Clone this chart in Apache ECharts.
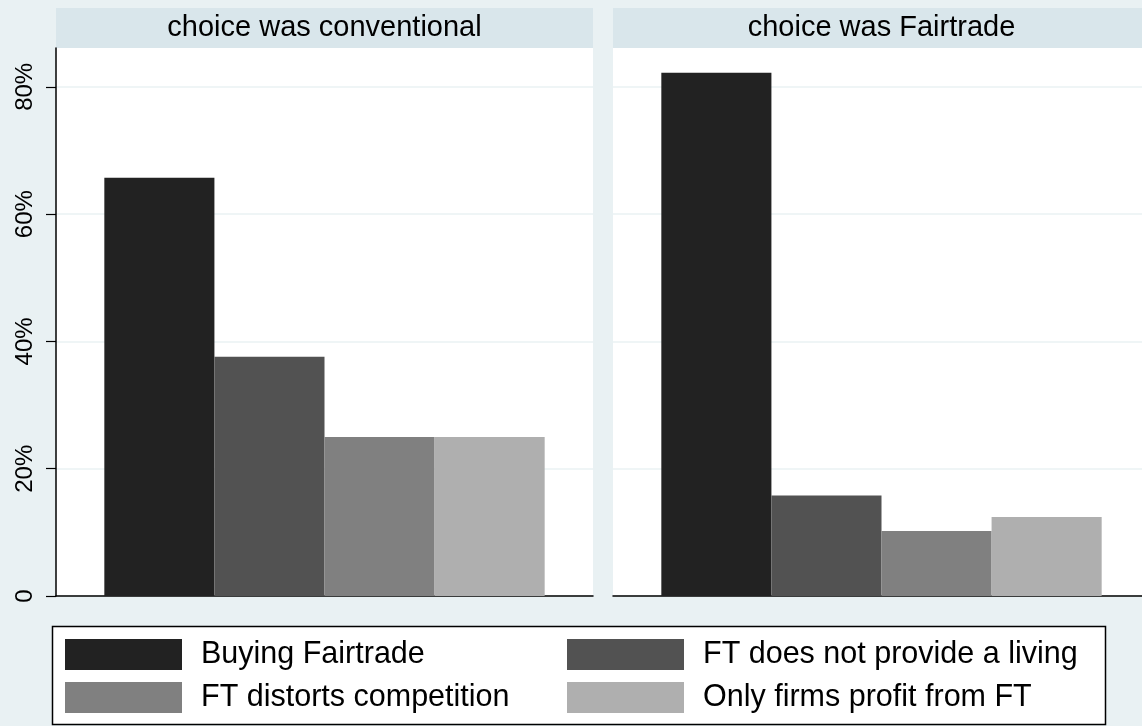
<!DOCTYPE html>
<html>
<head>
<meta charset="utf-8">
<script src="https://cdn.jsdelivr.net/npm/echarts@6/dist/echarts.min.js"></script>
<style>html,body{margin:0;padding:0;background:#e9f1f3}#c{width:1142px;height:726px}</style>
</head>
<body>
<div id="c"></div>
<script>
const panels = ['choice was conventional', 'choice was Fairtrade'];
const seriesNames = ['Buying Fairtrade', 'FT does not provide a living', 'FT distorts competition', 'Only firms profit from FT'];
const buyingFairtrade = [65.7, 82.2];
const notProvideLiving = [37.6, 15.8];
const distortsCompetition = [25.0, 10.2];
const onlyFirmsProfit = [25.0, 12.4];
const yTicks = [0, 20, 40, 60, 80];
const yMax = 86.1;

const values = [buyingFairtrade, notProvideLiving, distortsCompetition, onlyFirmsProfit];
const colors = ['#222222', '#525252', '#808080', '#afafaf'];
const FONT = 'Liberation Sans';

const chart = echarts.init(document.getElementById('c'));
const grids = [
  {left: 56, top: 48, width: 537, height: 548, outerBoundsMode: 'none'},
  {left: 613, top: 48, width: 537, height: 548, outerBoundsMode: 'none'}
];
const xAxes = panels.map((p, i) => ({
  type: 'category', gridIndex: i, data: [p],
  axisLine: {show: true, lineStyle: {color: '#000', width: 1.5}},
  axisTick: {show: false}, axisLabel: {show: false}, splitLine: {show: false}
}));
const yAxes = panels.map((p, i) => ({
  type: 'value', gridIndex: i, min: 0, max: yMax, interval: 20,
  axisLine: {show: i === 0, lineStyle: {color: '#000', width: 1.5}},
  axisTick: {show: i === 0, length: 10, lineStyle: {color: '#000', width: 1.2}, customValues: yTicks},
  axisLabel: {show: i === 0, rotate: 90, margin: 19, fontSize: 24, color: '#000', fontFamily: FONT,
    customValues: yTicks,
    formatter: v => v === 0 ? '0' : v + '%'},
  splitLine: {show: true, lineStyle: {color: '#eaf2f3', width: 1.5}}
}));
const series = [];
panels.forEach((p, i) => {
  seriesNames.forEach((n, k) => {
    series.push({
      type: 'bar', name: n, xAxisIndex: i, yAxisIndex: i,
      data: [values[k][i]], barWidth: '20.5%', barGap: '0%',
      itemStyle: {color: colors[k]}
    });
  });
});
const legendCommon = {
  orient: 'vertical', itemWidth: 117, itemHeight: 31, itemGap: 12, top: 639, padding: 0,
  icon: 'rect', selectedMode: false,
  textStyle: {fontSize: 30.5, color: '#000', fontFamily: FONT, padding: [0, 0, 0, 14]}
};
chart.setOption({
  backgroundColor: '#e9f1f3',
  animation: false,
  grid: grids,
  xAxis: xAxes,
  yAxis: yAxes,
  series: series,
  legend: [
    Object.assign({}, legendCommon, {left: 65, data: [seriesNames[0], seriesNames[2]]}),
    Object.assign({}, legendCommon, {left: 567, data: [seriesNames[1], seriesNames[3]]})
  ],
  graphic: [
    {type: 'rect', z: -1, shape: {x: 56, y: 8, width: 537, height: 40}, style: {fill: '#d9e6eb'}},
    {type: 'rect', z: -1, shape: {x: 613, y: 8, width: 537, height: 40}, style: {fill: '#d9e6eb'}},
    {type: 'rect', z: -1, shape: {x: 56, y: 48, width: 537, height: 548}, style: {fill: '#fff'}},
    {type: 'rect', z: -1, shape: {x: 613, y: 48, width: 537, height: 548}, style: {fill: '#fff'}},
    {type: 'text', x: 324.5, y: 28, style: {text: panels[0], font: '29px "Liberation Sans"', fill: '#000', align: 'center', verticalAlign: 'middle'}},
    {type: 'text', x: 881.5, y: 28, style: {text: panels[1], font: '29px "Liberation Sans"', fill: '#000', align: 'center', verticalAlign: 'middle'}},
    {type: 'rect', z: -1, shape: {x: 52.5, y: 626.5, width: 1053, height: 98}, style: {fill: '#fff', stroke: '#000', lineWidth: 1.5}}
  ]
});
</script>
</body>
</html>
